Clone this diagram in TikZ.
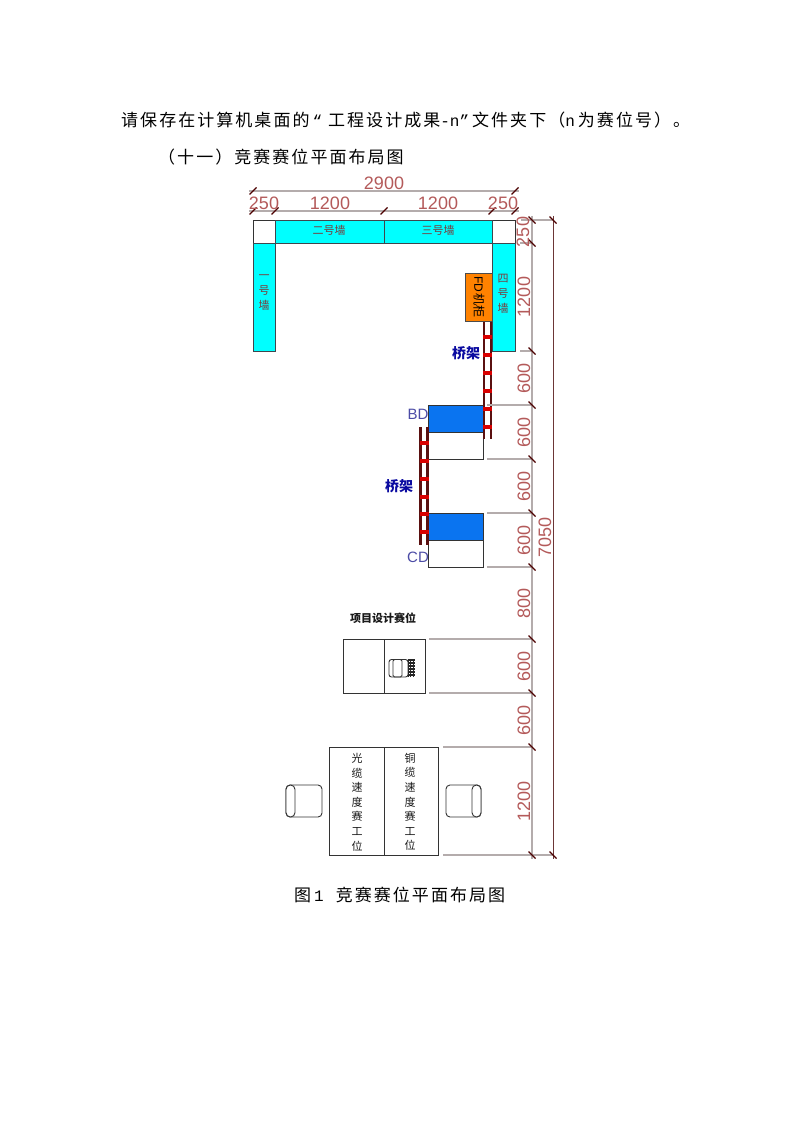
\documentclass[tikz,border=0pt]{standalone}
\usepackage{fontspec}
\setmainfont{Liberation Sans}
\newfontfamily\cjk{Noto Sans CJK SC}
\newfontfamily\cjkbody[LetterSpace=12]{Noto Sans CJK SC}
\newfontfamily\monolat{Liberation Mono}
\newcommand{\lat}[1]{{\monolat\fontsize{16}{16}\selectfont #1}}
\definecolor{dimtext}{HTML}{B45A5A}
\definecolor{dimline}{HTML}{B4ACAC}
\definecolor{wallcyan}{HTML}{00FFFF}
\definecolor{trayblue}{HTML}{0A74F0}
\definecolor{fdorange}{HTML}{FF8200}
\definecolor{traynavy}{HTML}{0A0AA0}
\definecolor{wallred}{HTML}{7A3A3A}
\definecolor{darkrail}{HTML}{5A1010}
\tikzset{
  x=1pt,y=-1pt,
  wall/.style={draw=black!80!cyan,fill=wallcyan,line width=.9pt},
  plain/.style={draw=black!80,line width=.9pt},
  dimln/.style={draw=dimline,line width=1.3pt},
  tick/.style={draw=black!70!red,line width=1.1pt},
  dimlabel/.style={text=dimtext,inner sep=0pt,font=\fontsize{18}{18}\selectfont},
  dimlabelv/.style={dimlabel,rotate=90},
  walllabel/.style={text=wallred,inner sep=0pt,font=\cjk\fontsize{11}{11}\selectfont},
  tinylabel/.style={text=black!90,inner sep=0pt,font=\cjk\fontsize{11}{11}\selectfont},
  traylabel/.style={text=traynavy,inner sep=0pt,font=\cjk\bfseries\fontsize{14}{14}\selectfont},
  pointlabel/.style={text=blue!50!black!70!white,inner sep=0pt,font=\fontsize{15}{15}\selectfont},
  bodytext/.style={text=black,inner sep=0pt,anchor=west,font=\cjkbody\fontsize{17}{17}\selectfont},
  rail/.style={draw=darkrail,line width=2.2pt},
  rung/.style={fill=red!85!black,draw=none},
  seat/.style={draw=black!80,line width=.9pt,rounded corners=4pt},
}
\begin{document}
\begin{tikzpicture}
\useasboundingbox (0,0) rectangle (794,1123);
\fill[white] (0,0) rectangle (794,1123);

% body text
\node[bodytext] (line1) at (121,120) {请保存在计算机桌面的\hspace{3pt}\lat{“}\hspace{6pt}工程设计成果\lat{-n”}\hspace{3pt}文件夹下（\lat{n}\hspace{3pt}为赛位号）。};
\node[bodytext] (line2) at (158,157) {（十一）竞赛赛位平面布局图};
\node[bodytext] (caption) at (294,895) {图\hspace{3pt}\lat{1}\hspace{12pt}竞赛赛位平面布局图};

% walls
\draw[plain] (253,220) rectangle (275,243);
\draw[plain] (492,220) rectangle (515,243);
\draw[wall] (275,220) rectangle (384,243);
\draw[wall] (384,220) rectangle (492,243);
\draw[wall] (253,243) rectangle (275,351);
\draw[wall] (492,243) rectangle (515,351);
\node[walllabel] (w2) at (329,230) {二号墙};
\node[walllabel] (w3) at (438,230) {三号墙};
\node[walllabel,align=center] (w1) at (264,293) {一\\[4pt]号\\[4pt]墙};
\node[walllabel,align=center] (w4) at (503,294) {四\\[4pt]号\\[4pt]墙};

% BD / CD
\draw[plain] (428,405) rectangle (483,459);
\draw[plain,fill=trayblue] (428,405) rectangle (483,432);
\draw[plain] (428,513) rectangle (483,567);
\draw[plain,fill=trayblue] (428,513) rectangle (483,540);
\node[pointlabel] (bd) at (418,414) {BD};
\node[pointlabel] (cd) at (418,557) {CD};

% upper tray
\draw[rail] (484,321) -- (484,439);
\draw[rail] (491,321) -- (491,439);
\foreach \y in {337,355,373,391,409,427}{\fill[rung] (483,\y-2.3) rectangle (492,\y+2.3);}

% FD cabinet
\draw[draw=black!70,fill=fdorange,line width=.9pt] (465,273) rectangle (492,321);
\node[inner sep=0pt,rotate=-90,text=black,font=\fontsize{12}{12}\selectfont] (fd) at (479,297) {FD\,{\cjk 机柜}};

% lower tray
\draw[rail] (420.5,427) -- (420.5,545);
\draw[rail] (427.5,427) -- (427.5,545);
\foreach \y in {443,461,479,497,514,532}{\fill[rung] (419.5,\y-2.3) rectangle (428.5,\y+2.3);}
\node[traylabel] (t1) at (466,353) {桥架};
\node[traylabel] (t2) at (399,486) {桥架};

% design seat
\node[tinylabel,font=\cjk\bfseries\fontsize{11}{11}\selectfont] (ds) at (383,618) {项目设计赛位};
\draw[plain] (343,639) rectangle (384,693);
\draw[plain] (384,639) rectangle (425,693);
\draw[seat,rounded corners=2.5pt] (389,659.5) rectangle (408,677);
\draw[seat,rounded corners=1.5pt] (393,659.5) rectangle (402,677);
\fill[black!85] (408,659) rectangle (415,677);
\foreach \y in {661,664,667,670,673,676}{\draw[white,line width=.5pt,densely dotted] (409,\y) -- (414,\y);}

% speed stations
\draw[plain] (329,747) rectangle (384,855);
\draw[plain] (384,747) rectangle (438,855);
\node[tinylabel,align=center] (s1) at (357,802) {光\\[3.6pt]缆\\[3.6pt]速\\[3.6pt]度\\[3.6pt]赛\\[3.6pt]工\\[3.6pt]位};
\node[tinylabel,align=center] (s2) at (410,802) {铜\\[3.6pt]缆\\[3.6pt]速\\[3.6pt]度\\[3.6pt]赛\\[3.6pt]工\\[3.6pt]位};
\draw[seat] (286,785) rectangle (322,817);
\draw[seat,fill=white,rounded corners=4.4pt] (286,785) rectangle (295,817);
\draw[seat] (446,785) rectangle (481,817);
\draw[seat,fill=white,rounded corners=4.4pt] (472,785) rectangle (481,817);

% horizontal dimensions
\draw[dimln] (249,191) -- (519,191);
\draw[dimln] (249,211) -- (519,211);
\foreach \x in {253,515}{\draw[tick] (\x-3.5,194.5) -- (\x+3.5,187.5);}
\foreach \x in {253,275,384,492,515}{\draw[tick] (\x-3.5,214.5) -- (\x+3.5,207.5);}
\node[dimlabel] (d2900) at (384,183) {2900};
\node[dimlabel] (d250a) at (264,203) {250};
\node[dimlabel] (d1200a) at (330,203) {1200};
\node[dimlabel] (d1200b) at (438,203) {1200};
\node[dimlabel] (d250b) at (503,203) {250};

% vertical dimensions
\draw[dimln] (532,216) -- (532,859);
\draw[draw=black!40!dimtext,line width=.8pt] (553,216) -- (553,859);
\draw[dimln] (521,220) -- (553,220);
\draw[dimln] (520,243) -- (532,243);
\draw[dimln] (520,351) -- (532,351);
\draw[dimln] (487,405) -- (532,405);
\draw[dimln] (487,459) -- (532,459);
\draw[dimln] (487,513) -- (532,513);
\draw[dimln] (487,567) -- (532,567);
\draw[dimln] (429,639) -- (532,639);
\draw[dimln] (429,693) -- (532,693);
\draw[dimln] (443,747) -- (532,747);
\draw[dimln] (443,855) -- (553,855);
\foreach \y in {220,243,351,405,459,513,567,639,693,747,855}{\draw[tick] (528.5,\y-3.5) -- (535.5,\y+3.5);}
\foreach \y in {220,855}{\draw[tick] (549.5,\y-3.5) -- (556.5,\y+3.5);}
\node[dimlabelv] (v250) at (523,232) {250};
\node[dimlabelv] (v1200a) at (524,297) {1200};
\node[dimlabelv] (v600a) at (524,378) {600};
\node[dimlabelv] (v600b) at (524,432) {600};
\node[dimlabelv] (v600c) at (524,486) {600};
\node[dimlabelv] (v600d) at (524,540) {600};
\node[dimlabelv] (v800) at (524,603) {800};
\node[dimlabelv] (v600e) at (524,666) {600};
\node[dimlabelv] (v600f) at (524,720) {600};
\node[dimlabelv] (v1200b) at (524,801) {1200};
\node[dimlabelv] (v7050) at (545,537) {7050};
\end{tikzpicture}
\end{document}
